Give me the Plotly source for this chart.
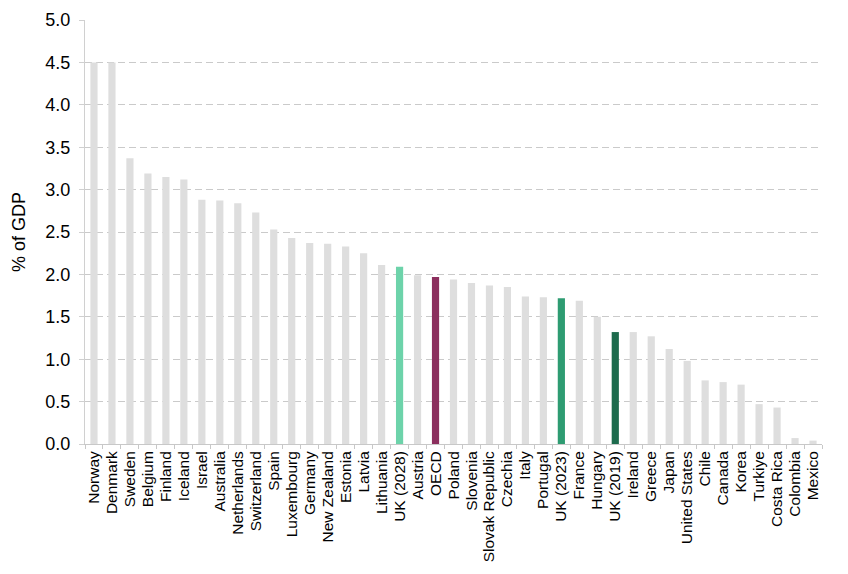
import plotly.graph_objects as go

countries = ['Norway', 'Denmark', 'Sweden', 'Belgium', 'Finland', 'Iceland', 'Israel',
             'Australia', 'Netherlands', 'Switzerland', 'Spain', 'Luxembourg', 'Germany',
             'New Zealand', 'Estonia', 'Latvia', 'Lithuania', 'UK (2028)', 'Austria', 'OECD',
             'Poland', 'Slovenia', 'Slovak Republic', 'Czechia', 'Italy', 'Portugal',
             'UK (2023)', 'France', 'Hungary', 'UK (2019)', 'Ireland', 'Greece', 'Japan',
             'United States', 'Chile', 'Canada', 'Korea', 'Turkiye', 'Costa Rica',
             'Colombia', 'Mexico']
values = [4.50, 4.50, 3.37, 3.19, 3.15, 3.12, 2.88, 2.87, 2.84, 2.73, 2.53, 2.43, 2.37,
          2.36, 2.33, 2.25, 2.11, 2.09, 1.99, 1.97, 1.94, 1.90, 1.87, 1.85, 1.74, 1.73,
          1.72, 1.69, 1.50, 1.32, 1.32, 1.27, 1.12, 0.98, 0.75, 0.73, 0.70, 0.47, 0.43,
          0.07, 0.04]

# highlighted bars, everything else grey
highlight = {'UK (2028)': '#6dd3aa', 'OECD': '#8c2f5e', 'UK (2023)': '#2e9c72', 'UK (2019)': '#1d6b4d'}
colors = [highlight.get(c, '#dedede') for c in countries]

fig = go.Figure(go.Bar(x=countries, y=values, marker_color=colors, marker_line_width=0))

# page body adds ~8px offset, margins account for it
fig.update_layout(
    width=848, height=574,
    margin=dict(l=77, r=34, t=12, b=138),
    plot_bgcolor='white', paper_bgcolor='white',
    font=dict(family='Liberation Sans, Arial, sans-serif', color='#000000'),
    bargap=0.6,
    showlegend=False,
)
fig.update_yaxes(
    range=[0, 5], dtick=0.5, tickformat='.1f',
    showgrid=True, gridcolor='#cacaca', griddash='7px,4px', gridwidth=1,
    showline=True, linecolor='#d0d0d0', linewidth=1,
    ticks='outside', ticklen=5, tickcolor='#d0d0d0', ticklabelstandoff=5,
    tickfont=dict(size=18), zeroline=False, ticklabeloverflow='allow',
    title=dict(text='% of GDP', font=dict(size=18), standoff=15),
    automargin=False,
)
fig.update_xaxes(
    tickmode='linear', tick0=0, dtick=1,
    tickangle=-90, tickfont=dict(size=15.5), ticklabeloverflow='allow',
    showline=True, linecolor='#c8c8c8', linewidth=1,
    ticks='outside', tickson='boundaries', ticklen=4, tickcolor='#c8c8c8',
    automargin=False,
)

fig.write_html("out.html")
